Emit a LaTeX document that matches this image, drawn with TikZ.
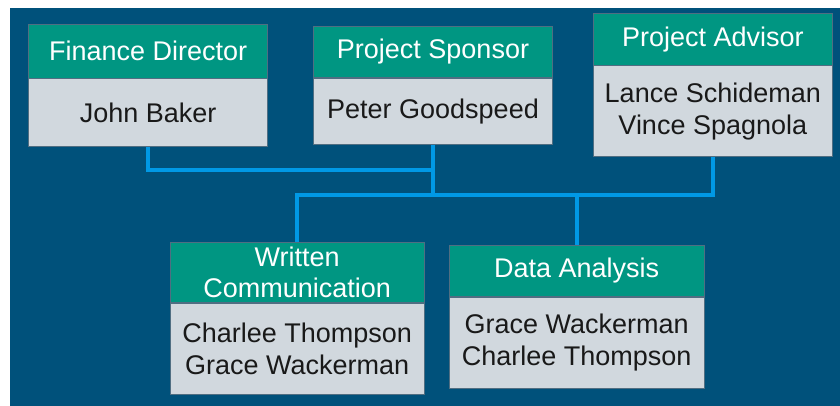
\documentclass[tikz,border=0pt]{standalone}
\usepackage{fontspec}
\setmainfont{Liberation Sans}
\usepackage{tikz}
\definecolor{bgblue}{RGB}{0,81,123}
\definecolor{headteal}{RGB}{0,150,130}
\definecolor{bodygrey}{RGB}{209,216,222}
\definecolor{linkblue}{RGB}{0,153,230}
\definecolor{edgegrey}{RGB}{80,110,130}

\begin{document}
\begin{tikzpicture}[x=1pt, y=-1pt,
	head/.style={shape=rectangle, draw=edgegrey, line width=0.8pt, fill=headteal, text=white, inner sep=0pt, align=center, font=\fontsize{27}{32}\selectfont},
	body/.style={shape=rectangle, draw=edgegrey, line width=0.8pt, fill=bodygrey, text=black!90, inner sep=0pt, align=center, font=\fontsize{27}{32}\selectfont, anchor=north},
	link/.style={draw=linkblue, line width=3.6pt}]
	% Background and boxes:
	\useasboundingbox[fill=white] (0,0) rectangle (840,406);
	\fill[bgblue] (10,8) rectangle (840,406);
	\node[head, minimum width=239pt, minimum height=54pt](fin) at (148.2, 51){Finance Director};
	\node[body, minimum width=239pt, minimum height=67.7pt](finb) at (fin.south){John Baker};
	\node[head, minimum width=238.6pt, minimum height=51.7pt](sp) at (433, 51.9){Project Sponsor};
	\node[body, minimum width=238.6pt, minimum height=65.6pt](spb) at (sp.south){Peter Goodspeed};
	\node[head, minimum width=239pt, minimum height=51.7pt](ad) at (712.8, 39.2){Project Advisor};
	\node[body, minimum width=239pt, minimum height=90.7pt](adb) at (ad.south){Lance Schideman\\Vince Spagnola};
	\node[head, minimum width=254.3pt, minimum height=60.5pt](wr) at (297.2, 272.2){Written\\[-1pt]Communication};
	\node[body, minimum width=254.3pt, minimum height=91.5pt](wrb) at (wr.south){Charlee Thompson\\Grace Wackerman};
	\node[head, minimum width=254.7pt, minimum height=51.2pt](da) at (576.7, 271){Data Analysis};
	\node[body, minimum width=254.7pt, minimum height=90.8pt](dab) at (da.south){Grace Wackerman\\Charlee Thompson};
	% Wires:
	\coordinate (fjoin) at (433, 170);
	\coordinate (bus) at (433, 195);
	\draw[link] (finb.south) |- (fjoin);
	\draw[link] (spb.south) -- (bus);
	\draw[link] (wr.north) |- (bus);
	\draw[link] (adb.south) |- (bus);
	\draw[link] (da.north) -- (da.north |- bus);
\end{tikzpicture}
\end{document}
